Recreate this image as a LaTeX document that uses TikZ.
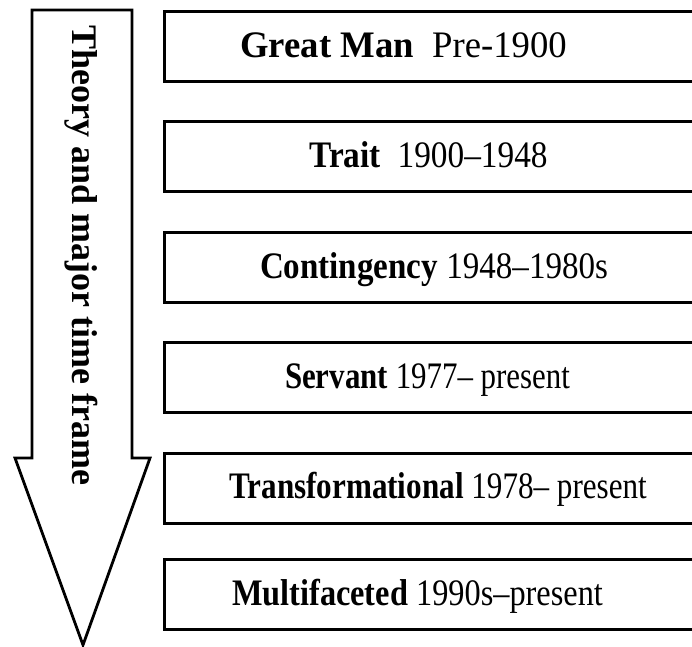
\documentclass[tikz,border=0pt]{standalone}
\usepackage{fontspec}
\setmainfont{Liberation Serif}
\newcommand{\eratext}[3]{\scalebox{#1}[1.1]{\textbf{#2}#3}}
\begin{document}
\begin{tikzpicture}[x=1pt,y=-1pt,
  period/.style={draw=black, line width=2.8pt, rectangle, minimum width=560pt,
    minimum height=70pt, anchor=north west, inner sep=0pt},
  era/.style={anchor=base, inner sep=0pt, font=\fontsize{34}{40}\selectfont},
  timeline/.style={draw=black, line width=2.8pt, line join=miter},
  axislabel/.style={rotate=-90, anchor=base west, inner sep=0pt,
    font=\fontsize{36}{42}\selectfont\bfseries}
  ]
\useasboundingbox (0,0) rectangle (692,646);
\clip (0,0) rectangle (692,646);
% arrow
\draw[timeline] (32,10) -- (132,10) -- (132,458) -- (150,458) -- (83,645)
  -- (15,458) -- (32,458) -- cycle;
\node[axislabel] (axis) at (72,25) {Theory and major time frame};
% boxes
\node[period] (b1) at (163,10) {};
\node[period] (b2) at (163,120) {};
\node[period] (b3) at (163,231) {};
\node[period] (b4) at (163,341) {};
\node[period] (b5) at (163,452) {};
\node[period] (b6) at (163,558) {};
% texts
\node[era] (t1) at (403.5,57) {\eratext{1.079}{Great Man}{\ \ Pre-1900}};
\node[era] (t2) at (428.5,167) {\eratext{0.98}{Trait}{\ \ 1900–1948}};
\node[era] (t3) at (434,278) {\eratext{0.972}{Contingency}{ 1948–1980s}};
\node[era] (t4) at (427.5,388) {\eratext{0.909}{Servant}{ 1977– present}};
\node[era] (t5) at (438,498.5) {\eratext{0.915}{Transformational}{ 1978– present}};
\node[era] (t6) at (417.5,605.5) {\eratext{0.951}{Multifaceted}{ 1990s–present}};
\end{tikzpicture}
\end{document}
